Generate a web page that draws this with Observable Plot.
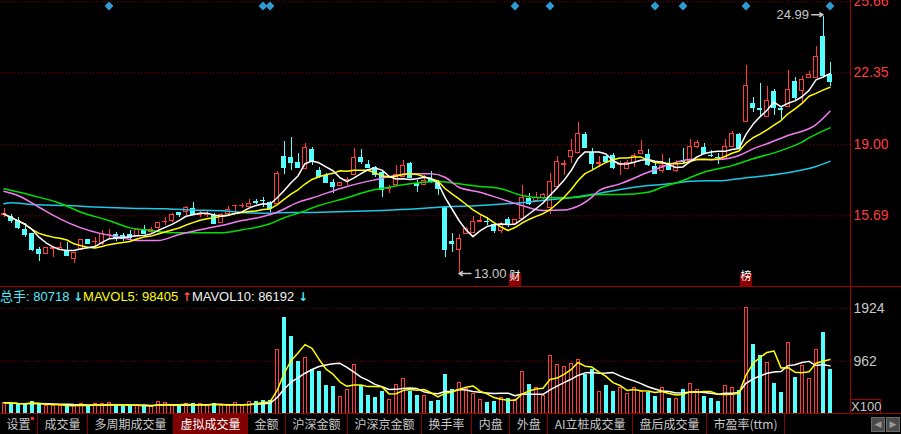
<!DOCTYPE html>
<html><head><meta charset="utf-8">
<script src="https://cdn.jsdelivr.net/npm/d3@7"></script>
<script src="https://cdn.jsdelivr.net/npm/@observablehq/plot@0.6"></script>
<style>
html,body{margin:0;padding:0;background:#000;}
#wrap{position:relative;width:901px;height:434px;background:#000;overflow:hidden;font-family:"Liberation Sans",Arial,"Noto Sans CJK SC",sans-serif;}
#price{position:absolute;left:0;top:0;width:901px;height:287px;}
#vol{position:absolute;left:0;top:287px;width:901px;height:127px;}
.sep{position:absolute;background:#a00000;}
#legend{position:absolute;left:0;top:289px;font-size:13px;line-height:16px;white-space:nowrap;font-family:"Liberation Sans","Noto Sans CJK SC",sans-serif;}
#legend .ar{font-family:"DejaVu Sans",sans-serif;font-weight:bold;font-size:12px;}
#x100{position:absolute;left:850px;top:399px;width:29px;height:13px;border:1px solid #a00000;color:#c8c8c8;font-size:13px;line-height:13px;text-align:center;}
#tabs{position:absolute;left:0;top:414px;height:20px;width:901px;display:flex;font-family:"Noto Sans CJK SC",sans-serif;font-size:12px;color:#c8c8c8;}
.tab{padding:0 6.5px;border-right:1px solid #8a0000;line-height:20px;height:20px;position:relative;white-space:nowrap;}
.tab.sel{background:#800000;color:#fff;}
.dot{position:absolute;width:3px;height:3px;background:#ff2020;right:3px;top:3px;}
.btn{position:absolute;top:417px;width:14px;height:15px;background:#4a4a4a;border:1px solid #6a6a6a;box-sizing:border-box;color:#9a9a9a;font-size:9px;line-height:13px;text-align:center;font-family:"DejaVu Sans",sans-serif;}
</style></head>
<body><div id="wrap">
<div id="price"></div><div id="vol"></div>
<div class="sep" style="left:0;top:286px;width:901px;height:1px;"></div>
<div class="sep" style="left:850px;top:0;width:1px;height:414px;"></div>
<div class="sep" style="left:0;top:413px;width:901px;height:1px;"></div>
<div id="legend"></div>
<div id="x100">X100</div>
<div id="tabs"></div>
<div class="btn" style="left:871px;">&#9664;</div>
<div class="btn" style="left:886px;">&#9654;</div>
</div>
<script>
// ---------- data ----------
const open = [15.73,15.66,15.47,15.05,14.85,14.14,13.92,14.16,14.12,14.04,
13.70,14.11,14.57,14.46,14.39,14.79,14.83,14.76,14.81,14.73,
15.04,14.95,15.13,15.40,15.47,15.85,15.86,16.02,15.74,15.74,
15.71,15.35,15.78,16.15,16.13,16.12,16.35,16.41,16.31,16.25,
18.45,18.42,18.17,17.88,18.78,17.80,17.58,17.26,17.09,17.36,
17.60,18.39,18.08,17.96,17.72,16.94,17.14,17.52,18.11,17.21,
17.14,17.37,17.21,16.09,14.51,14.11,14.85,14.88,15.42,15.44,
15.27,14.97,15.51,15.32,15.55,16.51,16.36,16.51,16.05,17.02,
18.07,18.45,18.61,19.48,18.65,18.11,18.45,18.50,18.07,17.86,
18.17,18.58,18.55,17.99,17.80,18.14,17.77,18.24,18.23,18.89,
18.86,18.51,18.43,18.35,18.92,19.48,20.05,20.91,20.70,20.28,
21.48,20.68,20.78,21.95,21.50,22.12,22.12,24.04,22.27];
const close = [15.77,15.47,15.13,14.82,14.11,13.95,14.17,14.17,14.21,13.86,
13.98,14.57,14.41,14.48,14.83,14.81,14.69,14.62,14.67,15.04,
14.88,15.04,15.38,15.42,15.75,15.75,16.06,15.75,15.76,15.76,
15.35,15.72,15.97,16.17,16.15,16.25,16.33,16.39,16.02,17.62,
17.96,18.19,17.96,18.86,18.27,17.52,17.24,17.06,17.23,17.38,
18.39,18.23,17.96,17.62,16.90,16.96,17.60,17.99,17.46,17.10,
17.30,17.28,16.95,14.11,14.41,14.62,15.09,15.39,15.44,15.42,
15.01,15.29,15.29,15.51,16.51,16.28,16.51,16.64,17.29,18.19,
18.09,18.73,19.48,18.86,18.14,18.13,18.23,17.93,18.09,18.17,
18.50,18.73,18.08,17.68,17.99,17.84,18.11,18.22,18.92,19.07,
18.61,18.49,18.41,18.89,19.51,18.86,21.76,20.75,20.63,21.06,
20.75,20.66,21.56,21.19,22.03,22.23,23.11,22.23,21.96];
const high = [16.02,15.75,15.60,15.32,14.88,14.23,14.22,14.26,14.45,14.46,
13.98,14.57,14.60,14.69,15.01,15.04,14.93,14.85,15.01,15.09,
15.24,15.13,15.38,15.60,15.81,15.85,16.12,16.31,15.91,15.90,
15.78,15.78,16.12,16.17,16.25,16.44,16.44,16.53,16.37,17.74,
19.15,19.35,18.61,19.05,18.86,17.96,17.68,17.37,17.26,17.46,
18.81,18.78,18.27,17.99,17.80,17.10,18.03,18.27,18.19,17.34,
17.57,17.77,17.34,16.09,14.85,14.81,15.13,15.66,15.71,15.60,
15.35,15.36,15.60,15.51,17.10,16.72,16.79,16.72,17.68,18.46,
18.27,19.25,20.04,19.57,18.81,18.45,18.50,18.58,18.23,18.27,
18.58,19.20,18.77,18.19,18.55,18.35,18.27,18.81,19.25,19.20,
19.07,18.73,18.58,19.23,19.63,19.54,22.69,21.22,21.84,21.71,
21.56,20.78,22.46,22.12,22.18,22.43,23.58,24.99,22.85];
const low = [15.60,15.33,15.04,14.69,14.03,13.58,13.88,13.73,14.12,13.86,
13.48,14.07,14.39,14.26,14.31,14.62,14.51,14.51,14.57,14.69,
14.85,14.88,15.01,15.24,15.39,15.60,15.71,15.72,15.63,15.63,
15.32,15.32,15.75,15.86,16.02,16.09,16.22,16.09,15.86,16.22,
17.60,17.80,17.88,17.88,18.03,17.41,17.18,16.72,17.07,17.09,
17.60,18.08,17.88,17.49,16.53,16.72,17.12,17.49,17.41,16.79,
17.12,17.18,16.64,13.74,13.99,13.00,14.85,14.88,15.39,15.24,
14.85,14.85,15.13,15.32,15.55,16.17,16.32,16.44,15.75,17.02,
17.57,18.11,18.61,18.81,17.84,17.93,18.19,17.84,17.57,17.84,
17.93,18.55,17.99,17.65,17.68,17.80,17.72,18.08,18.19,18.81,
18.55,18.42,18.08,18.30,18.92,18.73,20.05,20.52,20.28,20.26,
20.36,20.16,20.75,21.06,20.91,22.07,22.07,22.18,21.71];
// volume in units of 100 shares
const volume = [211,200,181,181,241,169,151,151,157,181,
145,187,133,187,187,205,157,133,157,169,
151,133,223,211,151,139,187,187,187,151,
205,151,151,205,151,217,241,259,259,1167,
1754,1421,955,1028,822,773,519,496,314,435,
895,519,350,314,411,259,532,635,411,338,
332,241,259,731,459,562,454,368,259,211,
229,290,278,259,762,532,472,332,1058,895,
859,907,980,726,817,399,519,411,472,368,
472,411,399,320,472,278,278,459,550,441,
332,278,229,514,472,423,1924,1276,1064,931,
550,392,1289,664,877,641,1160,1480,807];
// MA20 / MA30 / MA60 (candle index, value)
const ma20Idx = [0,2,5,8,11,14,17,19,22,25,28,31,34,37,39,42,44,49,53,56,59,61,63,65,68,71,74,77,80,81,84,85,88,92,95,98,102,105,107,109,112,116,118];
const ma20Val = [16.84,16.64,16.09,15.55,15.13,14.85,14.67,14.54,14.54,14.82,15.04,15.24,15.47,15.66,15.86,16.32,16.52,17.06,17.37,17.57,17.65,17.65,17.49,17.02,16.79,16.48,16.17,15.94,15.96,16.02,16.56,16.87,17.18,17.72,18.08,18.31,18.31,18.50,18.81,19.05,19.43,19.94,20.56];
const ma30Idx = [0,4,8,11,15,18,21,24,28,31,34,38,40,42,45,49,52,55,58,62,65,68,71,74,77,80,82,85,88,92,94,97,100,104,107,111,114,115,118];
const ma30Val = [16.95,16.64,16.28,15.86,15.47,15.13,15.01,14.90,14.90,14.90,15.04,15.32,15.60,15.81,16.17,16.53,16.84,17.02,17.18,17.29,17.18,17.06,16.95,16.64,16.53,16.53,16.56,16.68,16.68,16.79,17.02,17.34,17.72,18.03,18.35,18.73,19.12,19.32,19.79];
const ma60Idx = [0,1,4,9,12,18,23,26,32,34,38,41,44,49,54,59,62,68,73,78,80,84,86,88,92,95,98,103,106,111,116,118];
const ma60Val = [16.25,16.30,16.22,16.17,16.12,16.05,16.02,15.97,15.91,15.85,15.81,15.85,15.85,15.89,15.94,16.02,16.09,16.17,16.28,16.44,16.50,16.68,16.80,16.92,17.10,17.18,17.30,17.34,17.46,17.65,17.99,18.23];
const priceTicks = [15.69, 19.00, 22.35, 25.66];
const volTicks = [962, 1924];
const markerIdx = [15,37,38,73,78,93,97,106,118];
const eventIdx = [73,106];
const eventText = ["财","榜"];
const legendTotal = "80718", legendMa5 = "98405", legendMa10 = "86192";
const tabLabels = ["设置","成交量","多周期成交量","虚拟成交量","金额","沪深金额","沪深京金额","换手率","内盘","外盘","AI立桩成交量","盘后成交量","市盈率(ttm)"];
const selectedTab = "虚拟成交量";

// ---------- styles ----------
const RED = "#ff3c3c", CYAN = "#54ffff";
const C5 = "#ffffff", C10 = "#ffff00", C20 = "#f07cf0", C30 = "#00e000", C60 = "#1ec8e6";
const GRID = "#8c0000";

const rows = open.map((o, i) => ({i, open: o, high: high[i], low: low[i], close: close[i], volume: volume[i], up: close[i] >= open[i]}));
const upRows = rows.filter(d => d.up), dnRows = rows.filter(d => !d.up);
const pts = (ix, vs) => ix.map((i, j) => ({i, v: vs[j]}));
const xDomain = [-0.5, 850 / 7 - 0.5];
const svgStyle = {background: "#000", color: "#fff", overflow: "hidden", fontFamily: "'Liberation Sans', Arial, sans-serif", fontSize: "13px"};
const hiIdx = d3.maxIndex(high), loIdx = d3.minIndex(low);

const price = Plot.plot({
  width: 901, height: 287, marginTop: 0, marginBottom: 0, marginLeft: 0, marginRight: 51,
  style: svgStyle,
  x: {type: "linear", domain: xDomain, axis: null},
  y: {type: "linear", domain: [12.353, 25.721], axis: null},
  marks: [
    Plot.gridY(priceTicks, {stroke: GRID, strokeOpacity: 1, strokeDasharray: "1,2"}),
    Plot.axisY(priceTicks, {anchor: "right", label: null, tickSize: 0, tickPadding: 3, tickFormat: d => d.toFixed(2), fill: "#ff3c3c", fontSize: 14}),
    // wicks
    Plot.ruleX(upRows, {x: "i", y1: "low", y2: "high", stroke: RED, shapeRendering: "crispEdges"}),
    Plot.ruleX(dnRows, {x: "i", y1: "low", y2: "high", stroke: CYAN, shapeRendering: "crispEdges"}),
    // bodies
    Plot.rect(upRows, {x1: d => d.i - 2 / 7, x2: d => d.i + 2 / 7, y1: "open", y2: "close", fill: "#000", stroke: RED, shapeRendering: "crispEdges"}),
    Plot.rect(dnRows, {x1: d => d.i - 2.5 / 7, x2: d => d.i + 2.5 / 7, y1: "close", y2: "open", fill: CYAN, shapeRendering: "crispEdges"}),
    Plot.ruleY(dnRows, {y: "close", x1: d => d.i - 2.5 / 7, x2: d => d.i + 2.5 / 7, stroke: CYAN, shapeRendering: "crispEdges"}),
    // moving averages
    Plot.line(pts(ma60Idx, ma60Val), {x: "i", y: "v", stroke: C60, curve: "monotone-x"}),
    Plot.line(pts(ma30Idx, ma30Val), {x: "i", y: "v", stroke: C30, curve: "monotone-x"}),
    Plot.line(pts(ma20Idx, ma20Val), {x: "i", y: "v", stroke: C20, curve: "monotone-x"}),
    Plot.lineY(rows, Plot.windowY({k: 10, anchor: "end", reduce: "mean"}, {x: "i", y: "close", stroke: C10})),
    Plot.lineY(rows, Plot.windowY({k: 5, anchor: "end", reduce: "mean"}, {x: "i", y: "close", stroke: C5})),
    // markers
    Plot.dot(markerIdx, {x: d => d, frameAnchor: "top", dy: 5.5, symbol: "diamond2", r: 4, fill: "#2f9bd3", stroke: "none"}),
    Plot.dot(eventIdx, {x: d => d, frameAnchor: "bottom", dy: -7.5, symbol: "square", r: 7, fill: "#8b0000", stroke: "none"}),
    Plot.text(eventIdx, {x: d => d, text: (d, j) => eventText[j], frameAnchor: "bottom", dy: -7.5, fill: "#fff", fontSize: 11, fontFamily: "Noto Sans CJK SC"}),
    // high / low annotations
    Plot.arrow([hiIdx], {x1: d => d - 1.6, x2: d => d, y1: d => high[d], y2: d => high[d], dy: -1.5, stroke: "#c8c8c8", headLength: 4}),
    Plot.text([hiIdx], {x: d => d, y: d => high[d], text: d => high[d].toFixed(2), textAnchor: "end", dx: -14, dy: -1.5, fill: "#c8c8c8", fontSize: 13}),
    Plot.arrow([loIdx], {x1: d => d + 1.7, x2: d => d, y1: d => low[d], y2: d => low[d], stroke: "#c8c8c8", headLength: 4}),
    Plot.text([loIdx], {x: d => d, y: d => low[d], text: d => low[d].toFixed(2), textAnchor: "start", dx: 15, fill: "#c8c8c8", fontSize: 13})
  ]
});
document.getElementById("price").appendChild(price);

const vol = Plot.plot({
  width: 901, height: 127, marginTop: 0, marginBottom: 0, marginLeft: 0, marginRight: 51,
  style: svgStyle,
  x: {type: "linear", domain: xDomain, axis: null},
  y: {type: "linear", domain: [-3.6, 2301.5], axis: null},
  marks: [
    Plot.gridY(volTicks, {stroke: GRID, strokeOpacity: 1, strokeDasharray: "1,2"}),
    Plot.axisY(volTicks, {anchor: "right", label: null, tickSize: 0, tickPadding: 3, tickFormat: d => String(d), fill: "#c8c8c8", fontSize: 14}),
    Plot.rect(dnRows, {x1: d => d.i - 1.5 / 7, x2: d => d.i + 2.5 / 7, y1: 0, y2: "volume", fill: CYAN, shapeRendering: "crispEdges"}),
    Plot.rect(upRows, {x1: d => d.i - 1 / 7, x2: d => d.i + 2 / 7, y1: 0, y2: "volume", fill: "none", stroke: RED, shapeRendering: "crispEdges"}),
    Plot.lineY(rows, Plot.windowY({k: 10, anchor: "end", reduce: "mean"}, {x: "i", y: "volume", stroke: "#fff"})),
    Plot.lineY(rows, Plot.windowY({k: 5, anchor: "end", reduce: "mean"}, {x: "i", y: "volume", stroke: "#ffff00"}))
  ]
});
document.getElementById("vol").appendChild(vol);

// legend
document.getElementById("legend").innerHTML =
  `<span style="color:#54e8f8">总手: ${legendTotal}</span> <span class="ar" style="color:#54e8f8">↓</span>` +
  `<span style="color:#ffff00">MAVOL5: ${legendMa5}</span> <span class="ar" style="color:#ff5050">↑</span>` +
  `<span style="color:#f0f0f0">MAVOL10: ${legendMa10}</span> <span class="ar" style="color:#54e8f8">↓</span>`;

// tab bar
const tabs = document.getElementById("tabs");
tabLabels.forEach((t, j) => {
  const s = document.createElement("div");
  s.className = "tab" + (t === selectedTab ? " sel" : "");
  s.textContent = t;
  if (j === 0) { const dot = document.createElement("span"); dot.className = "dot"; s.appendChild(dot); }
  tabs.appendChild(s);
});
</script>
</body></html>
